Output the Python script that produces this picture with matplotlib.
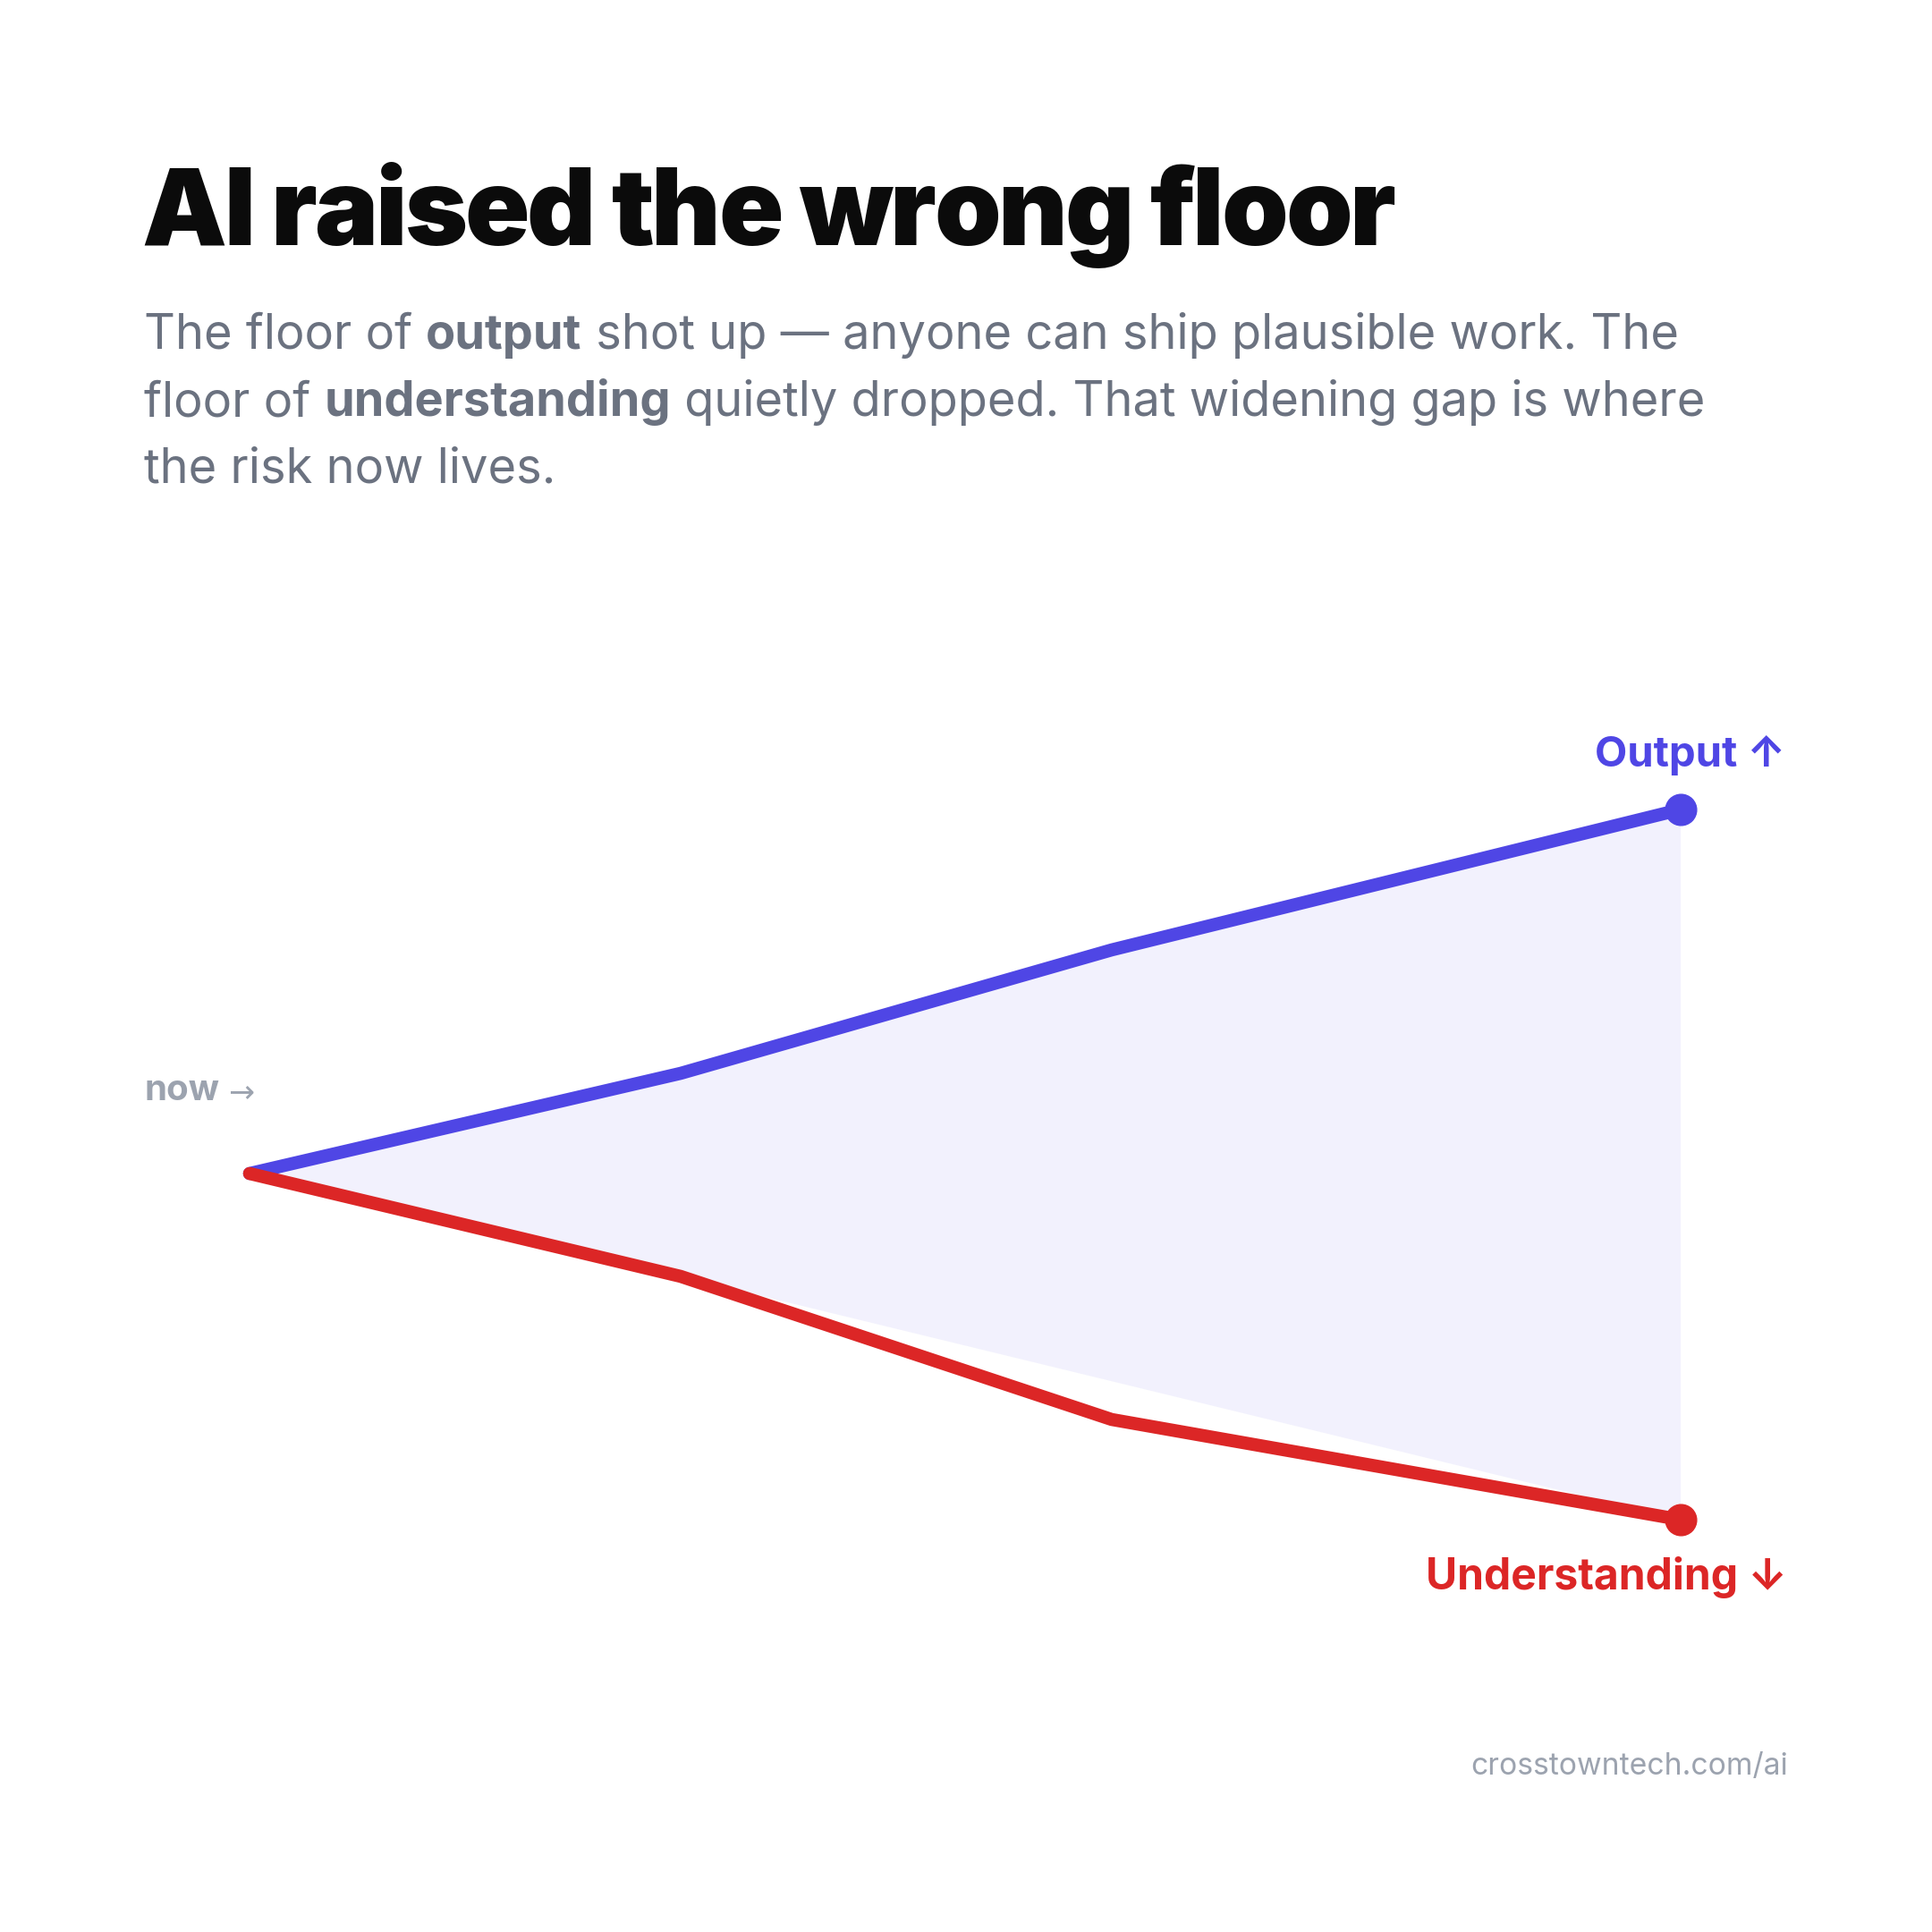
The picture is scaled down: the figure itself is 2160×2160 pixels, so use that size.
"""
AI raised the wrong floor: output vs. understanding, diverging from "now".
"""

import matplotlib
matplotlib.use("Agg")
import matplotlib.pyplot as plt
import numpy as np

# ------------------------------------------------------------
# data
# ------------------------------------------------------------
steps = [0, 1, 2, 3.32]
output = [0, 11.2, 25.0, 40.7]
understanding = [0, -11.5, -27.5, -38.7]
# the shaded gap skips the third understanding point
gap_floor_steps = [0, 1, 3.32]
gap_floor = [0, -11.5, -38.7]

title = "AI raised the wrong floor"
subtitle_lines = [
    [("The floor of ", "normal"), ("output", "bold"),
     (" shot up \u2014 anyone can ship plausible work. The", "normal")],
    [("floor of ", "normal"), ("understanding", "bold"),
     (" quietly dropped. That widening gap is where", "normal")],
    [("the risk now lives.", "normal")],
]
output_label = "Output \u2191"
understanding_label = "Understanding \u2193"
now_label = "now"
source = "crosstowntech.com/ai"

BLUE = "#4F46E5"
RED = "#DC2626"
GREY = "#6B7280"
LIGHT = "#9CA3AF"
INK = "#0B0B0B"

plt.rcParams["font.family"] = ["Inter", "DejaVu Sans"]

W = H = 2160
fig = plt.figure(figsize=(W / 100, H / 100), dpi=100)
fig.patch.set_facecolor("white")
renderer = fig.canvas.get_renderer()


def px(x, y):
    # pixel position from top-left -> figure fraction
    return x / W, 1 - y / H


# ------------------------------------------------------------
# headline (tight tracking, drawn glyph by glyph) + subtitle
# ------------------------------------------------------------
TRACK = 3.0  # px pulled in per glyph
probe = fig.text(0, 0, "", fontsize=86, fontweight="black")
for i, ch in enumerate(title):
    if i == 0:
        offset = 0
    else:
        probe.set_text(title[:i])
        offset = probe.get_window_extent(renderer).width
    fig.text(*px(158 + offset - i * TRACK, 274), ch, fontsize=86,
             fontweight="black", color=INK, va="baseline", ha="left")
probe.remove()

for i, parts in enumerate(subtitle_lines):
    y = 390 + i * 75
    x = 161
    for txt, weight in parts:
        t = fig.text(*px(x, y), txt, fontsize=39, fontweight=weight,
                     color=GREY, va="baseline", ha="left")
        # next segment starts where this one ends
        x = t.get_window_extent(renderer).x1

# ------------------------------------------------------------
# chart
# ------------------------------------------------------------
ax = fig.add_axes([279 / W, 1 - 1699 / H, 1600 / W, 794 / H])
ax.set_xlim(steps[0], steps[-1])
ax.set_ylim(understanding[-1], output[-1])
ax.axis("off")

poly_x = np.concatenate([steps, gap_floor_steps[::-1]])
poly_y = np.concatenate([output, gap_floor[::-1]])
ax.fill(poly_x, poly_y, color=BLUE, alpha=0.07, lw=0, zorder=1)

ax.plot(steps, output, color=BLUE, lw=10.5, solid_capstyle="round",
        solid_joinstyle="miter", clip_on=False, zorder=3)
ax.plot(steps[-1], output[-1], "o", color=BLUE, ms=25, clip_on=False, zorder=4)

ax.plot(steps, understanding, color=RED, lw=10.5, solid_capstyle="round",
        solid_joinstyle="miter", clip_on=False, zorder=3)
ax.plot(steps[-1], understanding[-1], "o", color=RED, ms=25, clip_on=False, zorder=4)

ax.annotate(output_label, (steps[-1], output[-1]), xytext=(117, 48),
            textcoords="offset pixels", ha="right", va="baseline",
            fontsize=34, fontweight="bold", color=BLUE, annotation_clip=False)
ax.annotate(understanding_label, (steps[-1], understanding[-1]), xytext=(119, -78),
            textcoords="offset pixels", ha="right", va="baseline",
            fontsize=34.6, fontweight="bold", color=RED, annotation_clip=False)

now = ax.annotate(now_label, (steps[0], output[0]), xytext=(-118, 82),
                  textcoords="offset pixels", ha="left", va="baseline",
                  fontsize=29, fontweight="bold", color=LIGHT, annotation_clip=False)
ax.annotate(" \u2192", xy=(1, 0), xycoords=now, xytext=(0, -1),
            textcoords="offset pixels", ha="left", va="bottom",
            fontsize=25, color=LIGHT, family="DejaVu Sans", annotation_clip=False)

fig.text(*px(1999, 1984), source, fontsize=24.3, color=LIGHT,
         ha="right", va="baseline")

fig.savefig("out.png", dpi=100, facecolor="white")
